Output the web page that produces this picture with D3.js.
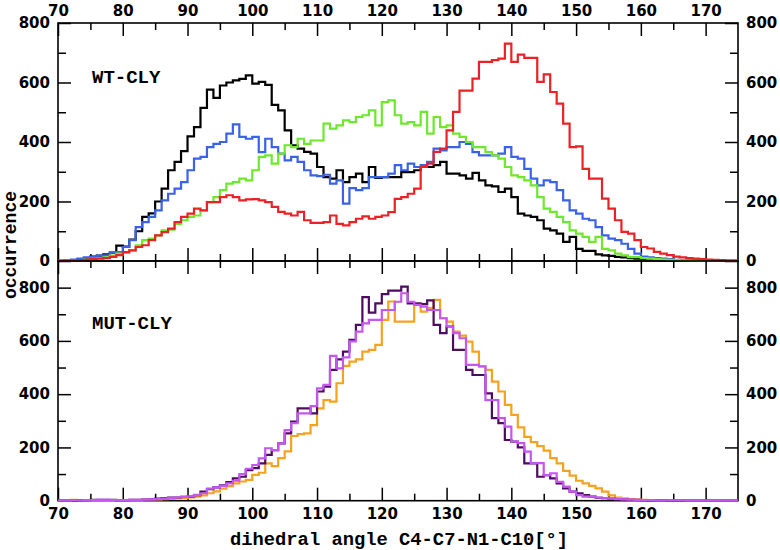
<!DOCTYPE html>
<html><head><meta charset="utf-8">
<script src="https://cdn.jsdelivr.net/npm/d3@7/dist/d3.min.js"></script>
<style>body{margin:0;background:#fff}</style>
</head><body>
<svg id="chart" width="780" height="550"></svg>
<script>
// ---- data (bin start angle, 1-degree bins) ----
const angles = [70,71,72,73,74,75,76,77,78,79,80,81,82,83,84,85,86,87,88,89,90,91,92,93,94,95,96,97,98,99,100,101,102,103,104,105,106,107,108,109,110,111,112,113,114,115,116,117,118,119,120,121,122,123,124,125,126,127,128,129,130,131,132,133,134,135,136,137,138,139,140,141,142,143,144,145,146,147,148,149,150,151,152,153,154,155,156,157,158,159,160,161,162,163,164,165,166,167,168,169,170,171,172,173,174];
const binEnd = 175;

const wtBlack = [0,1,3,5,10,15,18,22,28,52, 48,72,100,148,160,200,243,305,333,369, 419,450,515,576,548,590,600,607,612,624, 596,602,592,525,506,439,389,378,367,361, 316,282,277,305,265,282,294,265,316,279, 282,282,282,299,299,305,316,316,322,333, 294,294,288,277,296,271,254,251,232,243, 215,159,153,148,137,109,103,92,64,81, 41,34,34,22,19,17,14,12,10,8, 6,5,4,3,2,2,1,1,1,0, 0,0,0,0,0];
const wtBlue = [2,3,5,8,12,14,18,19,28,30, 47,70,114,131,148,170,204,226,243,265, 305,344,350,383,394,400,428,459,417,411, 417,366,411,383,361,338,350,333,305,288, 285,290,260,271,193,245,238,245,282,282, 282,294,322,305,327,316,322,333,378,372, 383,383,400,394,366,355,355,355,361,383, 350,344,310,277,254,271,265,238,204,170, 159,142,137,114,86,75,70,58,41,25, 15,12,10,8,6,4,3,2,1,1, 0,0,0,0,0];
const wtGreen = [0,1,2,3,5,7,10,12,18,25, 28,36,53,70,75,86,103,105,125,137, 148,153,170,198,215,238,260,265,277,271, 305,350,355,327,361,389,383,411,394,405, 405,462,445,456,473,467,484,490,506,456, 534,540,490,462,467,456,501,428,484,450, 456,428,417,400,383,383,366,355,344,316, 288,282,271,254,215,176,165,148,131,103, 92,81,64,81,41,36,25,19,13,13, 10,8,6,5,4,3,2,1,1,0, 0,0,0,0,0];
const wtRed = [0,1,2,3,4,6,8,10,14,20, 30,36,47,53,70,86,97,109,131,148, 159,176,170,198,198,215,221,215,204,207, 208,204,198,182,165,159,153,165,137,128, 128,131,153,125,120,131,142,150,142,148, 153,164,209,215,226,243,316,327,367,378, 439,501,573,573,613,669,669,675,680,731, 669,694,683,683,602,627,568,529,462,383, 385,310,277,277,210,176,137,98,92,70, 47,42,31,25,20,15,12,10,8,6, 5,4,3,2,2];

const mutOrange = [0,1,3,2,1,1,1,1,1,1, 1,2,2,3,4,5,6,7,9,10, 12,15,20,28,35,45,55,65,72,78, 97,105,140,130,160,185,243,250,253,284, 347,378,372,441,506,522,531,560,566,585, 679,748,672,672,672,735,710,723,754,685, 672,635,620,597,560,504,491,447,410,360, 322,275,240,220,205,188,160,140,112,94, 75,65,56,46,34,20,12,9,6,4, 3,2,2,1,1,0,0,0,0,0, 0,0,0,0,0];
const mutDark = [0,0,0,1,2,3,3,3,3,2, 2,3,3,4,5,8,10,12,12,14, 15,21,34,43,50,58,70,84,90,115, 122,140,172,190,215,253,297,347,347,328, 410,428,491,531,560,604,660,764,706,741, 776,789,789,804,741,741,738,752,660,629, 654,566,566,491,472,472,403,310,291,228, 222,200,140,140,90,96,84,65,46,34, 28,21,15,11,10,8,6,4,3,3, 2,1,1,1,0,0,0,0,0,0, 0,0,0,0,0];
const mutViolet = [0,0,1,1,2,2,3,3,2,2, 2,3,3,4,5,6,8,10,12,14, 16,22,28,45,50,56,65,75,100,120, 134,159,197,190,215,265,291,328,328,355, 422,435,544,497,538,598,635,666,679,679, 716,716,747,779,747,735,729,716,716,685, 654,629,610,510,510,504,378,378,310,278, 222,216,184,141,141,96,103,71,53,34, 21,15,15,12,10,8,6,5,4,3, 2,2,1,1,1,1,1,0,0,0, 0,0,0,0,0];

const xMajorTicks = [70,80,90,100,110,120,130,140,150,160,170];
const xMinorTicks = [75,85,95,105,115,125,135,145,155,165];
const yMajorTicks = [0,200,400,600,800];
const yMinorTicks = [100,300,500,700];
const panelLabels = ["WT-CLY","MUT-CLY"];
const xTitle = "dihedral angle C4-C7-N1-C10[°]";
const yTitle = "occurrence";

const topSeries = [
  {name:"wt-black", values: wtBlack, color:"#000000"},
  {name:"wt-blue", values: wtBlue, color:"#3a62e6"},
  {name:"wt-green", values: wtGreen, color:"#6ee82c"},
  {name:"wt-red", values: wtRed, color:"#ea2226"}
];
const botSeries = [
  {name:"mut-orange", values: mutOrange, color:"#f7a21f"},
  {name:"mut-dark", values: mutDark, color:"#4e0c5e"},
  {name:"mut-violet", values: mutViolet, color:"#c456f2"}
];

// ---- layout ----
const svg = d3.select("#chart");
const L = 58, R = 738;
const x = d3.scaleLinear().domain([70, 175]).range([L, R]);
const yT = d3.scaleLinear().domain([0, 800]).range([261, 23]);
const yB = d3.scaleLinear().domain([0, 900]).range([500.7, 261]);

const tickFont = "'DejaVu Sans', Verdana, sans-serif";
const monoFont = "'Liberation Mono', 'Courier New', monospace";

function styleAxis(g, showLabels) {
  g.select(".domain").remove();
  g.selectAll(".tick line").attr("stroke", "#000").attr("stroke-width", 1.5);
  g.selectAll(".tick text")
    .attr("fill", "#000")
    .style("font-family", tickFont)
    .style("font-size", "15px")
    .style("font-weight", "bold");
  if (!showLabels) g.selectAll(".tick text").remove();
}

function drawPanel(y, yTopPx, yBotPx, topLabels, bottomLabels, series) {
  // frame
  svg.append("rect").attr("x", L).attr("y", yTopPx).attr("width", R - L).attr("height", yBotPx - yTopPx)
    .attr("fill", "none").attr("stroke", "#000").attr("stroke-width", 1.6);

  // x axes
  svg.append("g").attr("transform", `translate(0,${yTopPx})`)
    .call(d3.axisTop(x).tickValues(xMajorTicks).tickSize(-13).tickPadding(7).tickFormat(d3.format("d")))
    .call(g => styleAxis(g, topLabels));
  svg.append("g").attr("transform", `translate(0,${yTopPx})`)
    .call(d3.axisTop(x).tickValues(xMinorTicks).tickSize(-7).tickFormat(""))
    .call(g => styleAxis(g, false));
  svg.append("g").attr("transform", `translate(0,${yBotPx})`)
    .call(d3.axisBottom(x).tickValues(xMajorTicks).tickSize(-13).tickPadding(8).tickFormat(d3.format("d")))
    .call(g => styleAxis(g, bottomLabels));
  svg.append("g").attr("transform", `translate(0,${yBotPx})`)
    .call(d3.axisBottom(x).tickValues(xMinorTicks).tickSize(-7).tickFormat(""))
    .call(g => styleAxis(g, false));

  // y axes
  svg.append("g").attr("transform", `translate(${L},0)`)
    .call(d3.axisLeft(y).tickValues(yMajorTicks).tickSize(-13).tickPadding(8).tickFormat(d3.format("d")))
    .call(g => styleAxis(g, true));
  svg.append("g").attr("transform", `translate(${L},0)`)
    .call(d3.axisLeft(y).tickValues(yMinorTicks).tickSize(-8).tickFormat(""))
    .call(g => styleAxis(g, false));
  svg.append("g").attr("transform", `translate(${R},0)`)
    .call(d3.axisRight(y).tickValues(yMajorTicks).tickSize(-13).tickPadding(8).tickFormat(d3.format("d")))
    .call(g => styleAxis(g, true));
  svg.append("g").attr("transform", `translate(${R},0)`)
    .call(d3.axisRight(y).tickValues(yMinorTicks).tickSize(-8).tickFormat(""))
    .call(g => styleAxis(g, false));

  // histograms (step lines)
  const line = d3.line().x(d => x(d[0])).y(d => y(d[1])).curve(d3.curveStepAfter);
  series.forEach(s => {
    const pts = angles.map((a, i) => [a, s.values[i]]);
    pts.push([binEnd, s.values[s.values.length - 1]]);
    svg.append("path").datum(pts)
      .attr("d", line)
      .attr("fill", "none")
      .attr("stroke", s.color)
      .attr("stroke-width", 2.2)
      .attr("stroke-linejoin", "miter");
  });
}

drawPanel(yT, 23, 261, true, false, topSeries);
drawPanel(yB, 261, 500.7, false, true, botSeries);

// panel labels
svg.append("text").attr("x", 92).attr("y", 83).text(panelLabels[0])
  .style("font-family", monoFont).style("font-size", "19px").style("font-weight", "bold").attr("fill", "#000");
svg.append("text").attr("x", 92).attr("y", 329).text(panelLabels[1])
  .style("font-family", monoFont).style("font-size", "19px").style("font-weight", "bold").attr("fill", "#000");

// axis titles
svg.append("text").attr("x", 230).attr("y", 545).text(xTitle)
  .style("font-family", monoFont).style("font-size", "18.8px").style("font-weight", "bold").attr("fill", "#000");
svg.append("text").attr("transform", "translate(16,245) rotate(-90)").attr("text-anchor", "middle").text(yTitle)
  .style("font-family", monoFont).style("font-size", "18px").style("font-weight", "bold").attr("fill", "#000");
</script>
</body></html>
